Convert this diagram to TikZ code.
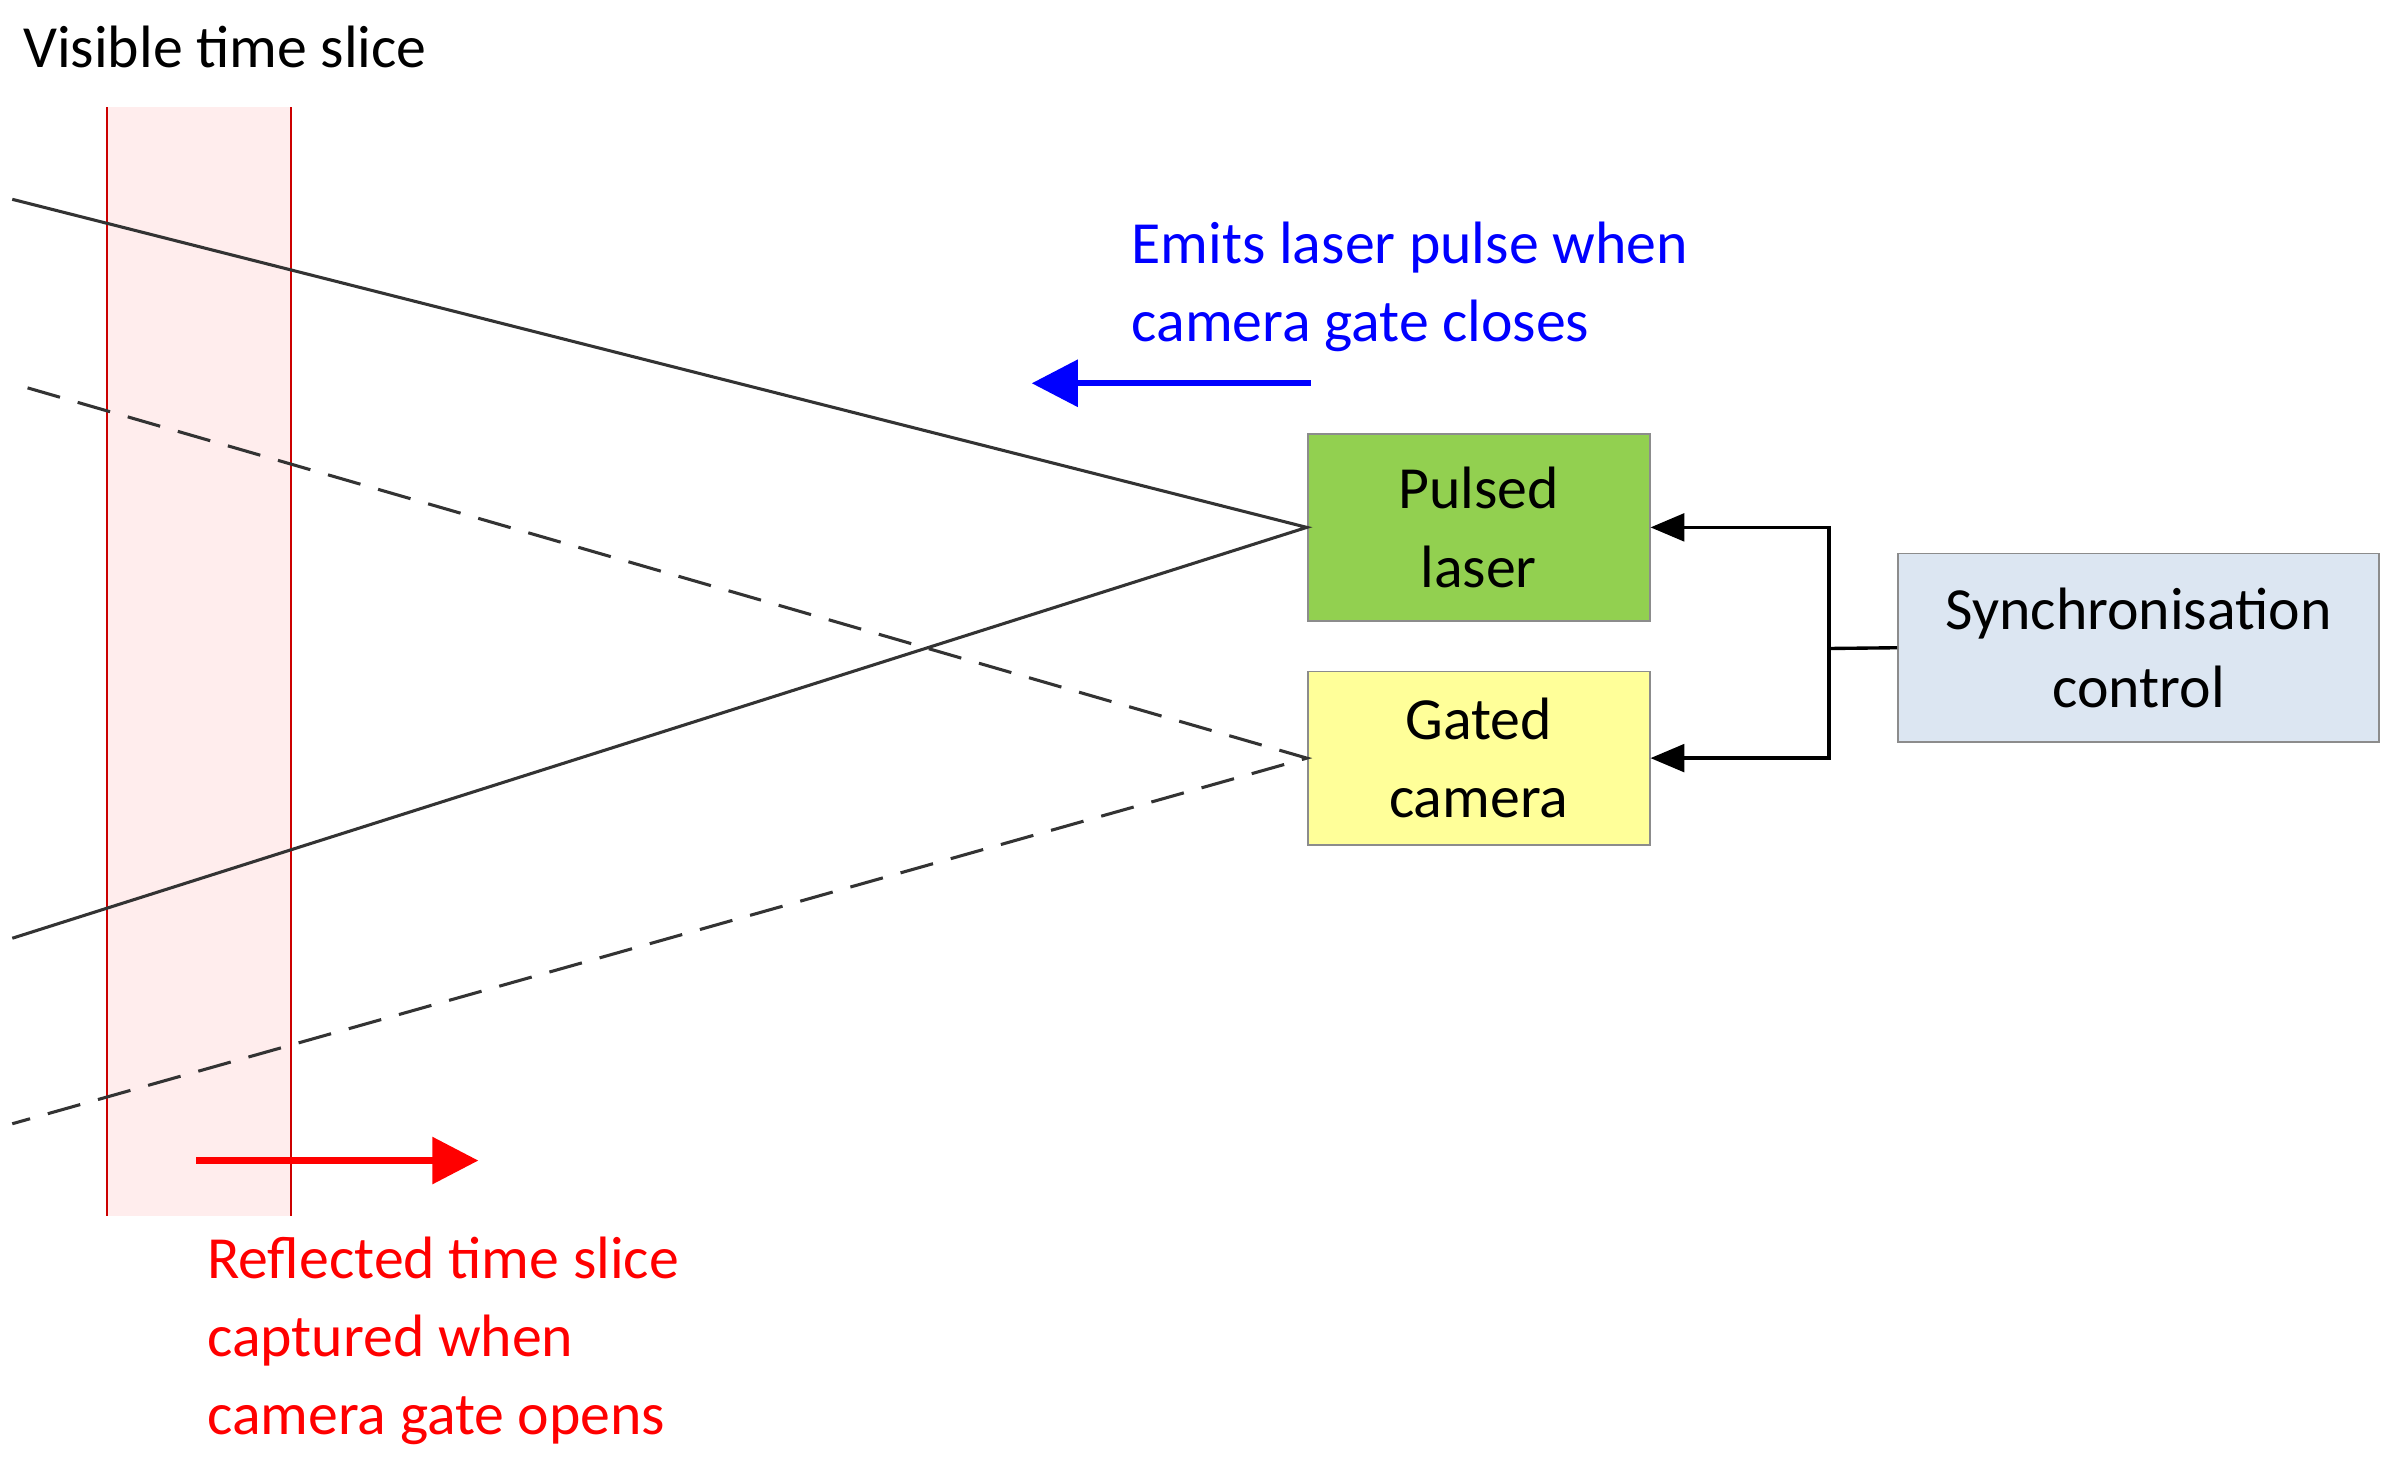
\documentclass[tikz,border=0pt]{standalone}
\usepackage{fontspec}
\setmainfont{Carlito}
\usetikzlibrary{arrows.meta}
\begin{document}
\begin{tikzpicture}[x=1pt,y=-1pt,
  box/.style={draw=black!45,line width=1.2pt,minimum width=223pt,inner sep=0pt,align=center,font=\fontsize{39}{51}\selectfont},
  lbl/.style={font=\fontsize{39}{51}\selectfont,inner sep=0pt,align=left},
  ray/.style={draw=black!80,line width=2pt},
  conn/.style={draw=black,line width=2.2pt,-{Triangle[length=22pt,width=18pt]}}]
\useasboundingbox (0,0) rectangle (1557,950);
\fill[red!7] (70,70) rectangle (190,793);
\draw[red!80!black,line width=1.2pt] (70,70) -- (70,793) (190,70) -- (190,793);
\node[lbl,anchor=base west] (vis) at (15,44) {Visible time slice};
\node[box,fill={rgb,255:red,146;green,208;blue,80},minimum height=122pt] (laser) at (964.5,344) {Pulsed\\laser};
\node[box,fill={rgb,255:red,255;green,255;blue,153},minimum height=113pt] (cam) at (964.5,494.5) {Gated\\camera};
\node[box,fill={rgb,255:red,220;green,230;blue,242},minimum width=314pt,minimum height=123pt] (sync) at (1395,422.5) {Synchronisation\\control};
\coordinate (s1) at (8,130); \coordinate (s2) at (8,612);
\coordinate (d1) at (18,253); \coordinate (d2) at (8,733);
\draw[ray] (s1) -- (laser.west) -- (s2);
\draw[ray,dash pattern=on 22pt off 12pt] (d1) -- (cam.west) -- (d2);
\coordinate (j) at (1193,423);
\draw[line width=2.2pt] (sync.west) -- (j);
\draw[conn] (j) |- (laser.east);
\draw[conn] (j) |- (cam.east);
\coordinate (b1) at (855,250); \coordinate (b2) at (673,250);
\draw[blue,line width=4pt,-{Triangle[length=30pt,width=30pt]}] (b1) -- (b2);
\node[lbl,blue,anchor=base west] (emit) at (738,223) {Emits laser pulse when\\camera gate closes};
\coordinate (r1) at (128,757); \coordinate (r2) at (312,757);
\draw[red,line width=4pt,-{Triangle[length=30pt,width=30pt]}] (r1) -- (r2);
\node[lbl,red,anchor=base west] (refl) at (135,936) {Reflected time slice\\captured when\\camera gate opens};
\end{tikzpicture}
\end{document}
